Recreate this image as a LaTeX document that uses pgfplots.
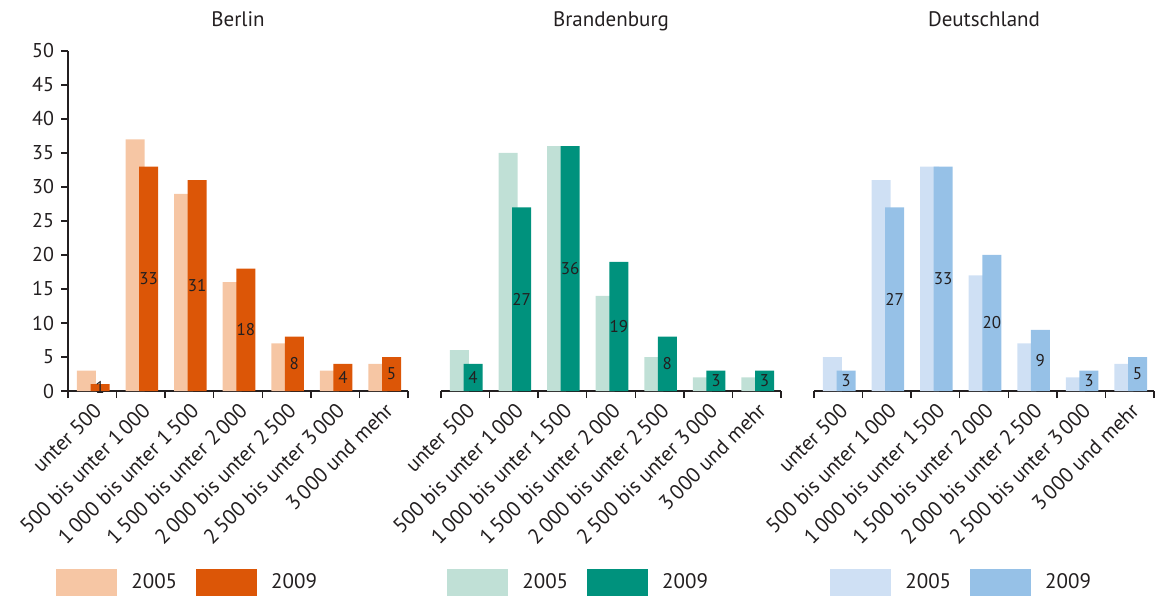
\documentclass[border=0pt]{standalone}
\usepackage{fontspec}
\setmainfont{PT Sans}
\usepackage{pgfplots}
\pgfplotsset{compat=1.18}

\definecolor{txt}{HTML}{231F20}
\definecolor{berA}{HTML}{F6C6A4}
\definecolor{berB}{HTML}{DC5607}
\definecolor{brbA}{HTML}{C0E0D6}
\definecolor{brbB}{HTML}{00927D}
\definecolor{deA}{HTML}{CFE0F4}
\definecolor{deB}{HTML}{96C1E7}

% 1 px of the reference = 0.5pt
\pgfplotsset{
  /pgf/number format/assume math mode=true,
  panel/.style={
    scale only axis, width=170pt, height=170pt,
    xmin=-0.5, xmax=6.5, ymin=0, ymax=50,
    axis x line*=bottom,
    x axis line style={line width=1.4pt, color=txt, -},
    xtick={-0.5,0.5,1.5,2.5,3.5,4.5,5.5,6.5},
    x tick label as interval,
    xticklabels={unter 500, 500 bis unter 1\,000, 1\,000 bis unter 1\,500,
      1\,500 bis unter 2\,000, 2\,000 bis unter 2\,500, 2\,500 bis unter 3\,000,
      3\,000 und mehr},
    xticklabel style={rotate=45, anchor=north east, inner sep=1pt,
      font=\fontsize{10.5}{12}\selectfont, text=txt},
    tick align=outside, major tick length=3.5pt,
    tick style={line width=0.7pt, color=txt},
    title style={anchor=base, at={(0.5,1)}, yshift=6pt,
      font=\fontsize{10.5}{12}\selectfont, text=txt},
    legend columns=2,
    legend style={at={(0,0)}, anchor=west, yshift=-95.75pt,
      draw=none, fill=none, inner sep=0pt,
      font=\fontsize{10.5}{12}\selectfont,
      nodes={inner sep=0pt, text=txt},
      /tikz/every odd column/.append style={column sep=7pt},
      /tikz/every even column/.append style={column sep=9.5pt}},
  },
  leg/.style={legend image code/.code={\fill[##1] (0pt,-6.75pt) rectangle (30.5pt,6.75pt);}},
  old/.style={ybar, bar width=9.5pt, bar shift=-2.9pt, draw=none, fill=#1, leg},
  new/.style={ybar, bar width=9.5pt, bar shift=3.9pt, draw=none, fill=#1, leg,
    nodes near coords,
    visualization depends on=y \as \rawy,
    every node near coord/.append style={anchor=center, xshift=3.9pt,
      yshift={-1.7pt*\rawy}, font=\fontsize{8.5}{10}\selectfont, text=txt}},
}

\begin{document}
\begin{tikzpicture}
\useasboundingbox (0,0) rectangle (577.5pt,299.5pt);

\begin{axis}[panel, at={(34pt,104pt)}, anchor=south west,
  title=Berlin,
  axis y line*=left,
  y axis line style={line width=1pt, color=txt, -},
  ytick={0,5,...,50},
  yticklabel style={font=\fontsize{10}{12}\selectfont, text=txt},
  legend style={xshift=-6pt}]
\addplot[old=berA] coordinates {(0,3) (1,37) (2,29) (3,16) (4,7) (5,3) (6,4)};
\addplot[new=berB] coordinates {(0,1) (1,33) (2,31) (3,18) (4,8) (5,4) (6,5)};
\legend{2005,2009}
\end{axis}

\begin{axis}[panel, at={(220.5pt,104pt)}, anchor=south west,
  title=Brandenburg,
  axis y line=none, ytick=\empty,
  legend style={xshift=3pt}]
\addplot[old=brbA] coordinates {(0,6) (1,35) (2,36) (3,14) (4,5) (5,2) (6,2)};
\addplot[new=brbB] coordinates {(0,4) (1,27) (2,36) (3,19) (4,8) (5,3) (6,3)};
\legend{2005,2009}
\end{axis}

\begin{axis}[panel, at={(407pt,104pt)}, anchor=south west,
  title=Deutschland,
  axis y line=none, ytick=\empty,
  legend style={xshift=8pt}]
\addplot[old=deA] coordinates {(0,5) (1,31) (2,33) (3,17) (4,7) (5,2) (6,4)};
\addplot[new=deB] coordinates {(0,3) (1,27) (2,33) (3,20) (4,9) (5,3) (6,5)};
\legend{2005,2009}
\end{axis}
\end{tikzpicture}
\end{document}
